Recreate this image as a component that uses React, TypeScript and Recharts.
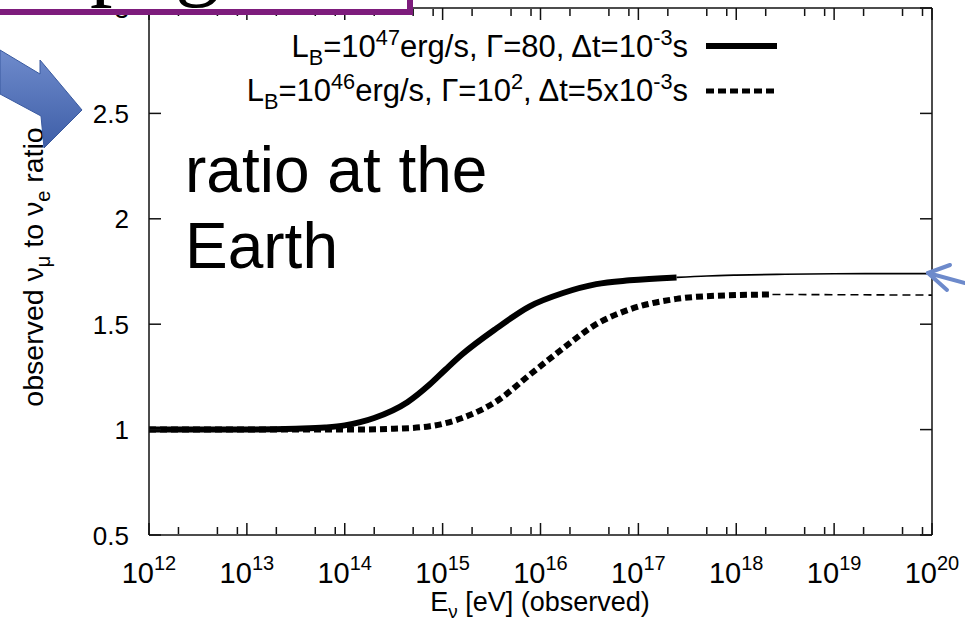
import React from 'react';
import { LineChart, Line, XAxis, YAxis } from 'recharts';

const FONT = '"Liberation Sans", Arial, Helvetica, sans-serif';
const SERIF = '"Liberation Serif", "Times New Roman", serif';

// axis values
const decadeExponents = [12, 13, 14, 15, 16, 17, 18, 19, 20];
const minorMultipliers = [2, 5, 8];
const ratioTicks = [0.5, 1, 1.5, 2, 2.5, 3];

// series 1: L_B=1e47 erg/s, Gamma=80, dt=1e-3 s (x = log10 E)
const s1ThickLogE = [12, 13, 13.5, 13.8, 14.0, 14.3, 14.64, 14.87, 15.03, 15.2, 15.55, 15.89, 16.23, 16.57, 16.91, 17.39];
const s1ThickRatio = [1.0, 1.0, 1.004, 1.01, 1.02, 1.055, 1.13, 1.215, 1.285, 1.357, 1.48, 1.585, 1.648, 1.69, 1.708, 1.722];
const s1ThinLogE = [17.39, 17.7, 18.0, 18.5, 19.0, 19.5, 20.0];
const s1ThinRatio = [1.722, 1.729, 1.733, 1.737, 1.739, 1.74, 1.74];

// series 2: L_B=1e46 erg/s, Gamma=1e2, dt=5e-3 s
const s2ThickLogE = [12, 13, 14, 14.5, 14.87, 15.2, 15.55, 15.89, 16.23, 16.57, 16.91, 17.39, 17.8, 18.37];
const s2ThickRatio = [1.0, 1.0, 1.0, 1.004, 1.016, 1.055, 1.134, 1.26, 1.385, 1.5, 1.57, 1.62, 1.635, 1.641];
const s2ThinLogE = [18.37, 19.0, 19.5, 20.0];
const s2ThinRatio = [1.641, 1.64, 1.639, 1.638];

type Seg = [string, '' | 'sub' | 'sup'];
const legendRow1: Seg[] = [['L', ''], ['B', 'sub'], ['=10', ''], ['47', 'sup'], ['erg/s, \u0393=80, \u0394t=10', ''], ['-3', 'sup'], ['s', '']];
const legendRow2: Seg[] = [['L', ''], ['B', 'sub'], ['=10', ''], ['46', 'sup'], ['erg/s, \u0393=10', ''], ['2', 'sup'], [', \u0394t=5x10', ''], ['-3', 'sup'], ['s', '']];
const yLabel: Seg[] = [['observed \u03bd', ''], ['\u03bc', 'sub'], [' to \u03bd', ''], ['e', 'sub'], [' ratio', '']];
const xLabel: Seg[] = [['E', ''], ['\u03bd', 'sub'], [' [eV] (observed)', '']];
const annotationLines = ['ratio at the', 'Earth'];
const titleFragment = 'page';

const toPoints = (xs: number[], ys: number[]) => xs.map((x, i) => ({ x, y: ys[i] }));
const s1Thick = toPoints(s1ThickLogE, s1ThickRatio);
const s1Thin = toPoints(s1ThinLogE, s1ThinRatio);
const s2Thick = toPoints(s2ThickLogE, s2ThickRatio);
const s2Thin = toPoints(s2ThinLogE, s2ThinRatio);

const minorTicks = decadeExponents.slice(0, -1).flatMap((d) => minorMultipliers.map((m) => d + Math.log10(m)));

function rich(segs: Seg[], size: number) {
  let cur = 0;
  return segs.map(([t, kind], i) => {
    const target = kind === 'sup' ? -0.4 * size : kind === 'sub' ? 0.25 * size : 0;
    const dy = target - cur;
    cur = target;
    return (
      <tspan key={i} dy={dy} fontSize={kind ? size * 0.7 : size}>
        {t}
      </tspan>
    );
  });
}

const XTick = (props: any) => {
  const { x, y, payload } = props;
  return (
    <text x={x} y={y + 48} textAnchor="middle" fontFamily={FONT} fontSize={29} fill="#000">
      10
      <tspan dy={-13} fontSize={20}>
        {payload.value}
      </tspan>
    </text>
  );
};

const YTick = (props: any) => {
  const { x, y, payload } = props;
  return (
    <text x={x} y={y + 9.5} textAnchor="end" fontFamily={FONT} fontSize={26} fill="#000">
      {String(payload.value)}
    </text>
  );
};

const NoLabel = () => <g />;

const frame = { stroke: '#111', strokeWidth: 1.5 };

const tickAxisX = (id: string, orientation: 'top' | 'bottom', ticks: number[], size: number, withLine: boolean) => (
  <XAxis
    key={id}
    xAxisId={id}
    orientation={orientation}
    dataKey="x"
    type="number"
    domain={[12, 20]}
    allowDataOverflow
    ticks={ticks}
    interval={0}
    mirror
    height={1}
    tickSize={size}
    tick={<NoLabel />}
    tickLine={frame}
    axisLine={withLine ? frame : false}
  />
);

export default function App() {
  return (
    <div style={{ position: 'absolute', left: 0, top: 0, width: 965, height: 622, background: '#fff' }}>
      <LineChart width={965} height={622} margin={{ top: 8, right: 33, bottom: 0, left: 0 }}>
        <XAxis
          xAxisId="b"
          dataKey="x"
          type="number"
          domain={[12, 20]}
          allowDataOverflow
          ticks={decadeExponents}
          interval={0}
          height={87}
          tickSize={0}
          tickMargin={0}
          tickLine={false}
          axisLine={frame}
          tick={<XTick />}
        />
        {tickAxisX('bMaj', 'bottom', decadeExponents, 12, false)}
        {tickAxisX('bMin', 'bottom', minorTicks, 7, false)}
        {tickAxisX('tMaj', 'top', decadeExponents, 12, true)}
        {tickAxisX('tMin', 'top', minorTicks, 7, false)}
        <YAxis
          yAxisId="l"
          type="number"
          domain={[0.5, 3]}
          allowDataOverflow
          ticks={ratioTicks}
          interval={0}
          width={149}
          tickSize={0}
          tickMargin={20}
          tickLine={false}
          axisLine={frame}
          tick={<YTick />}
        />
        <YAxis yAxisId="lMaj" type="number" domain={[0.5, 3]} allowDataOverflow ticks={ratioTicks} interval={0} mirror width={1} tickSize={12} tick={<NoLabel />} tickLine={frame} axisLine={false} />
        <YAxis yAxisId="rMaj" orientation="right" type="number" domain={[0.5, 3]} allowDataOverflow ticks={ratioTicks} interval={0} mirror width={1} tickSize={12} tick={<NoLabel />} tickLine={frame} axisLine={frame} />

        <Line xAxisId="b" yAxisId="l" data={s1Thin} dataKey="y" type="monotone" stroke="#000" strokeWidth={1.6} dot={false} activeDot={false} isAnimationActive={false} />
        <Line xAxisId="b" yAxisId="l" data={s2Thin} dataKey="y" type="monotone" stroke="#000" strokeWidth={1.6} strokeDasharray="8 5" dot={false} activeDot={false} isAnimationActive={false} />
        <Line xAxisId="b" yAxisId="l" data={s2Thick} dataKey="y" type="monotone" stroke="#000" strokeWidth={6} strokeDasharray="7 4" dot={false} activeDot={false} isAnimationActive={false} />
        <Line xAxisId="b" yAxisId="l" data={s1Thick} dataKey="y" type="monotone" stroke="#000" strokeWidth={6} dot={false} activeDot={false} isAnimationActive={false} />
      </LineChart>

      <svg width={965} height={622} style={{ position: 'absolute', left: 0, top: 0, pointerEvents: 'none' }}>
        <defs>
          <linearGradient id="arrowGrad" x1="0" y1="0" x2="0" y2="1">
            <stop offset="0" stopColor="#6f8bcc" />
            <stop offset="1" stopColor="#3e5ea7" />
          </linearGradient>
        </defs>

        {/* legend */}
        <text x={688} y={57} textAnchor="end" fontFamily={FONT} fontSize={31} fill="#000">
          {rich(legendRow1, 31)}
        </text>
        <line x1={706} y1={46} x2={777} y2={46} stroke="#000" strokeWidth={6} />
        <text x={688} y={101} textAnchor="end" fontFamily={FONT} fontSize={31} fill="#000">
          {rich(legendRow2, 31)}
        </text>
        <line x1={706} y1={91} x2={777} y2={91} stroke="#000" strokeWidth={5} strokeDasharray="8 4" />

        {/* axis labels */}
        <text x={540} y={611} textAnchor="middle" fontFamily={FONT} fontSize={27} fill="#000">
          {rich(xLabel, 27)}
        </text>
        <text x={43} y={267} transform="rotate(-90 43 267)" textAnchor="middle" fontFamily={FONT} fontSize={28.5} fill="#000">
          {rich(yLabel, 28.5)}
        </text>

        {/* slide annotation */}
        <text x={185} y={192} fontFamily={FONT} fontSize={64} fill="#000">
          {annotationLines[0]}
        </text>
        <text x={185} y={268} fontFamily={FONT} fontSize={64} fill="#000">
          {annotationLines[1]}
        </text>

        {/* title box */}
        <rect x={-20} y={-20} width={430} height={32} fill="#fff" />
        <text x={90} y={-11} fontFamily={SERIF} fontSize={90} fill="#000">
          {titleFragment}
        </text>
        <rect x={-20} y={-20} width={430} height={32} fill="none" stroke="#7d1c7c" strokeWidth={6} />

        {/* big arrow */}
        <polygon points="0,50 40,74 40,60 82,110 44,148 41,116 0,94" fill="url(#arrowGrad)" stroke="#3a5aa0" strokeWidth={1} />

        {/* small arrow */}
        <g stroke="#6d8acb" strokeWidth={4} strokeLinecap="round" fill="none">
          <line x1={928} y1={273} x2={965} y2={283} />
          <line x1={928} y1={273} x2={950} y2={265} />
          <line x1={928} y1={273} x2={947} y2={290} />
        </g>
      </svg>
    </div>
  );
}
